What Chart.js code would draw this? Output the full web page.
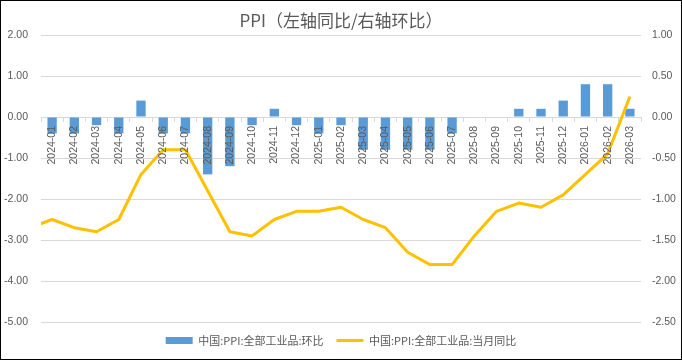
<!DOCTYPE html>
<html>
<head>
<meta charset="utf-8">
<script src="https://cdn.jsdelivr.net/npm/chart.js@4/dist/chart.umd.min.js"></script>
<style>
html,body{margin:0;padding:0;background:#fff;}
#wrap{width:682px;height:360px;position:relative;}
</style>
</head>
<body>
<div id="wrap"><canvas id="c" width="682" height="360"></canvas></div>
<script>
// Categories (first month is only partly visible: clipped line segment at left edge)
const months = ['2023-12',
  '2024-01','2024-02','2024-03','2024-04','2024-05','2024-06','2024-07','2024-08','2024-09','2024-10','2024-11','2024-12',
  '2025-01','2025-02','2025-03','2025-04','2025-05','2025-06','2025-07','2025-08','2025-09','2025-10','2025-11','2025-12',
  '2026-01','2026-02','2026-03'];
const firstVisibleMonth = '2024-01';

// 中国:PPI:全部工业品:环比 (right axis)
const momValues = [null,
  -0.2,-0.2,-0.1,-0.2,0.2,-0.2,-0.2,-0.7,-0.6,-0.1,0.1,-0.1,
  -0.2,-0.1,-0.4,-0.4,-0.4,-0.4,-0.2,0.0,0.0,0.1,0.1,0.2,
  0.4,0.4,0.1];

// 中国:PPI:全部工业品:当月同比 (left axis)
const yoyValues = [-2.7,
  -2.5,-2.7,-2.8,-2.5,-1.4,-0.8,-0.8,-1.8,-2.8,-2.9,-2.5,-2.3,
  -2.3,-2.2,-2.5,-2.7,-3.3,-3.6,-3.6,-2.9,-2.3,-2.1,-2.2,-1.9,
  -1.4,-0.9,0.5];

const leftTicks = {min: -5, max: 2, step: 1};
const rightTicks = {min: -2.5, max: 1, step: 0.5};

const titleText = 'PPI（左轴同比/右轴环比）';
const momLabel = '中国:PPI:全部工业品:环比';
const yoyLabel = '中国:PPI:全部工业品:当月同比';

const GREY = '#595959';
const GRID = '#d9d9d9';
const NUM_FONT = '"Liberation Sans", Arial, sans-serif';
const CJK_FONT = '"Noto Sans CJK SC", "Liberation Sans", sans-serif';

const frame = {
  id: 'frame',
  beforeDraw(chart) {
    const c = chart.ctx;
    c.save(); c.fillStyle = '#fff'; c.fillRect(0, 0, chart.width, chart.height); c.restore();
  },
  afterDraw(chart) {
    const c = chart.ctx;
    c.save(); c.strokeStyle = '#000'; c.lineWidth = 1;
    c.strokeRect(0.5, 0.5, chart.width - 1, chart.height - 1);
    c.restore();
  }
};

new Chart(document.getElementById('c'), {
  type: 'bar',
  data: {
    labels: months,
    datasets: [
      {
        type: 'bar',
        label: momLabel,
        data: momValues,
        yAxisID: 'y1',
        backgroundColor: '#5B9BD5',
        borderWidth: 0,
        barPercentage: 0.42,
        categoryPercentage: 1,
        pointStyle: 'rect',
        order: 2
      },
      {
        type: 'line',
        label: yoyLabel,
        data: yoyValues,
        yAxisID: 'y',
        borderColor: '#FFC000',
        backgroundColor: '#FFC000',
        borderWidth: 3,
        pointRadius: 0,
        tension: 0,
        borderJoinStyle: 'round',
        clip: 0,
        pointStyle: 'line',
        order: 1
      }
    ]
  },
  options: {
    responsive: false,
    animation: false,
    devicePixelRatio: 1,
    layout: {padding: {left: 0, right: 0, top: 0, bottom: 4}},
    plugins: {
      title: {
        display: true,
        text: titleText,
        color: GREY,
        font: {family: CJK_FONT, size: 17, weight: 'normal', lineHeight: 1.2},
        padding: {top: 10, bottom: 4.6}
      },
      legend: {
        position: 'bottom',
        labels: {
          usePointStyle: true,
          pointStyleWidth: 27,
          boxHeight: 7,
          padding: 13,
          color: GREY,
          font: {family: CJK_FONT, size: 11},
          sort: (a, b) => a.datasetIndex - b.datasetIndex
        }
      },
      tooltip: {enabled: false}
    },
    scales: {
      x: {
        type: 'category',
        min: firstVisibleMonth,
        offset: true,
        position: {y: 0},
        grid: {display: true, drawOnChartArea: false, drawTicks: true, tickLength: 4, color: GRID, offset: true},
        border: {display: true, color: GRID, width: 1},
        ticks: {
          autoSkip: false, minRotation: 90, maxRotation: 90, padding: 5,
          color: GREY, font: {family: NUM_FONT, size: 10.5}, z: 1
        }
      },
      y: {
        position: 'left',
        min: leftTicks.min, max: leftTicks.max,
        afterFit(s) { s.width = 41; },
        grid: {color: GRID, drawTicks: false},
        border: {display: false},
        ticks: {
          stepSize: leftTicks.step, padding: 13, color: GREY,
          font: {family: NUM_FONT, size: 10.5},
          callback: v => Number(v).toFixed(2)
        }
      },
      y1: {
        position: 'right',
        min: rightTicks.min, max: rightTicks.max,
        afterFit(s) { s.width = 41; },
        grid: {drawOnChartArea: false, drawTicks: false},
        border: {display: false},
        ticks: {
          stepSize: rightTicks.step, padding: 11, color: GREY,
          font: {family: NUM_FONT, size: 10.5},
          callback: v => Number(v).toFixed(2)
        }
      }
    }
  },
  plugins: [frame]
});
</script>
</body>
</html>
